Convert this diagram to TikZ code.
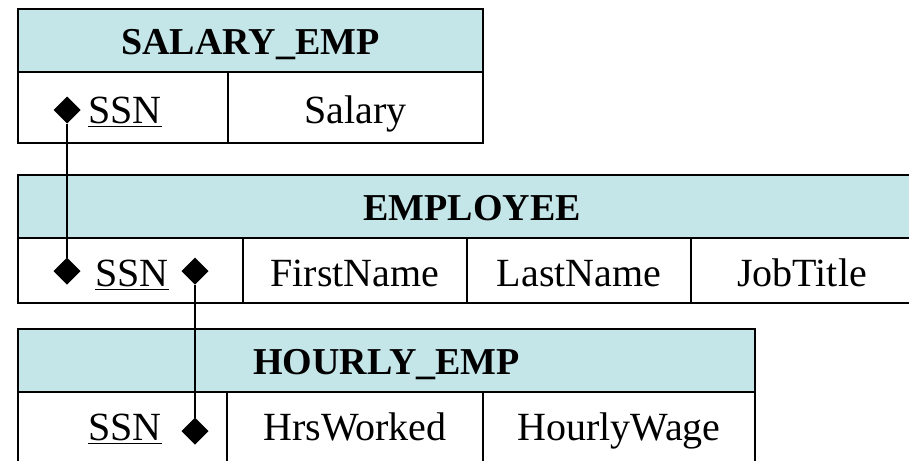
\documentclass[tikz,border=0pt]{standalone}
\usepackage{fontspec}
\setmainfont{Liberation Serif}
\usetikzlibrary{shapes.geometric}
\definecolor{hdr}{RGB}{196,230,232}
\begin{document}
\begin{tikzpicture}[x=1pt,y=-1pt,
  frame/.style={draw=black,line width=2pt},
  htext/.style={anchor=base,font=\fontsize{38}{40}\selectfont\bfseries,inner sep=0pt},
  btext/.style={anchor=base,font=\fontsize{40}{44}\selectfont,inner sep=0pt},
  dia/.style={diamond,fill=black,inner sep=0pt,outer sep=0pt,minimum width=27pt,minimum height=27pt},
  link/.style={line width=2pt},
  uline/.style={line width=1.8pt}]
\useasboundingbox (0,0) rectangle (909,460);
\clip (0,0) rectangle (909,460);
% SALARY_EMP
\fill[hdr] (18,9) rectangle (483,72);
\draw[frame] (18,9) rectangle (483,143);
\draw[frame] (18,72) -- (483,72);
\draw[frame] (228,72) -- (228,143);
\node[htext] (sh) at (250.5,54.5) {SALARY\_EMP};
\node[btext] (s1) at (125,123) {SSN};
\node[btext] (s2) at (355.5,123) {Salary};
\node[dia] (sd) at (67,110) {};
\draw[uline] ([yshift=-3.5pt]s1.base west) -- ([yshift=-3.5pt]s1.base east);
% EMPLOYEE
\fill[hdr] (18,175) rectangle (925,238);
\draw[frame] (18,175) rectangle (925,303);
\draw[frame] (18,238) -- (925,238);
\draw[frame] (243,238) -- (243,303);
\draw[frame] (467,238) -- (467,303);
\draw[frame] (691,238) -- (691,303);
\node[htext] (eh) at (472,220.5) {EMPLOYEE};
\node[btext] (e1) at (132,286) {SSN};
\node[btext] (e2) at (355,286) {FirstName};
\node[btext] (e3) at (579,286) {LastName};
\node[btext] (e4) at (802,286) {JobTitle};
\node[dia] (el) at (67,271) {};
\node[dia] (er) at (195,271) {};
\draw[uline] ([yshift=-3.5pt]e1.base west) -- ([yshift=-3.5pt]e1.base east);
% HOURLY_EMP
\fill[hdr] (18,329) rectangle (755,392);
\draw[frame] (18,329) rectangle (755,468);
\draw[frame] (18,392) -- (755,392);
\draw[frame] (227,392) -- (227,468);
\draw[frame] (483,392) -- (483,468);
\node[htext] (hh) at (386.5,374.5) {HOURLY\_EMP};
\node[btext] (h1) at (125,440) {SSN};
\node[btext] (h2) at (355,440) {HrsWorked};
\node[btext] (h3) at (619,440) {HourlyWage};
\node[dia] (hd) at (195,431) {};
\draw[uline] ([yshift=-3.5pt]h1.base west) -- ([yshift=-3.5pt]h1.base east);
% connectors
\draw[link] (sd) -- (el);
\draw[link] (er) -- (hd);
\end{tikzpicture}
\end{document}
